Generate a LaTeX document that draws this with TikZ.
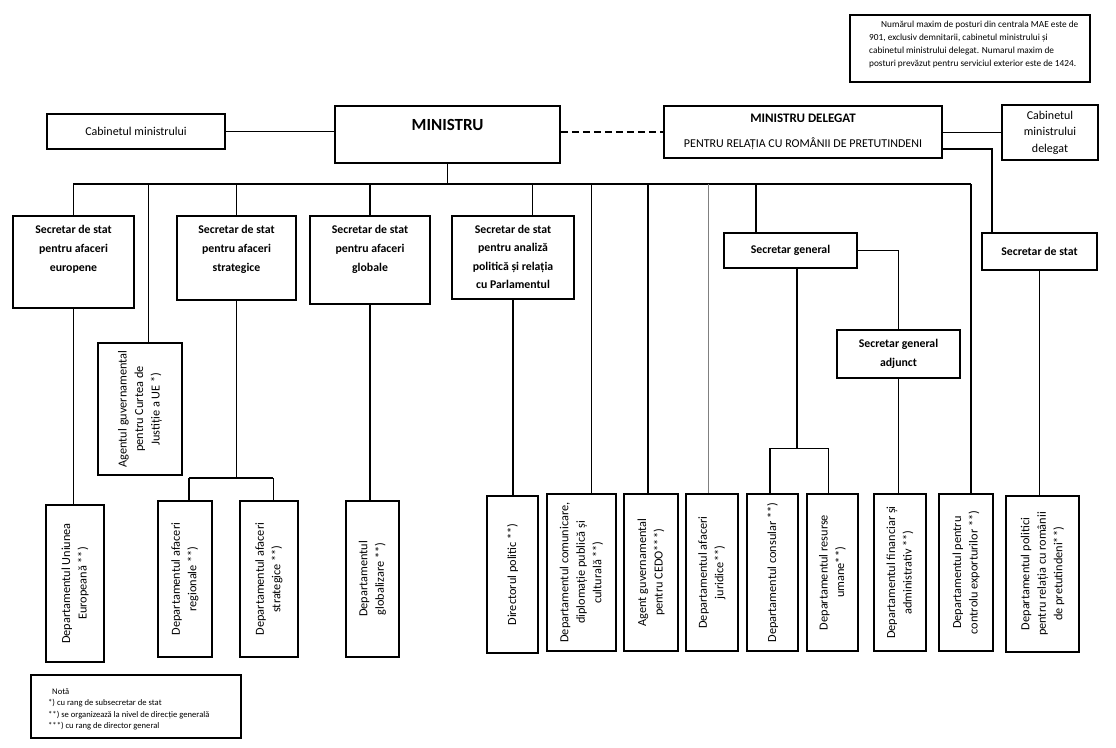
\documentclass[tikz,border=0pt]{standalone}
\usepackage{fontspec}
\setmainfont{Carlito}
\begin{document}
\begin{tikzpicture}[x=1pt,y=-1pt,
  bx/.style={draw, line width=1.5pt, inner sep=0pt, align=center},
  hdtxt/.style={anchor=north, inner sep=0pt, align=center, font=\fontsize{11.8}{19}\selectfont\bfseries},
  hdbox/.style={bx, font=\fontsize{11.8}{18.5}\selectfont\bfseries},
  rt/.style={bx, rotate=90, font=\fontsize{12.3}{16.5}\selectfont},
  thk/.style={line width=1.5pt},
  thn/.style={line width=0.9pt},
]
\useasboundingbox[fill=white] (0,0) rectangle (1116,747);

% note top right
\node[bx, line width=1.3pt, minimum width=240pt, minimum height=67pt] (note) at (970,48.5) {};
\node[anchor=north west, inner sep=0pt, align=left, font=\fontsize{9.3}{12.8}\selectfont] (notet) at (869,21)
 {\hspace*{12pt}Numărul maxim de posturi din centrala MAE este de\\901, exclusiv demnitarii, cabinetul ministrului și\\cabinetul ministrului delegat. Numarul maxim de\\posturi prevăzut pentru serviciul exterior este de 1424.};

% top row
\node[bx, minimum width=178pt, minimum height=35pt, font=\fontsize{12}{15}\selectfont] (cab) at (136,131.5) {Cabinetul ministrului};
\node[bx, minimum width=225pt, minimum height=57pt] (min) at (447.5,134.5) {};
\node[inner sep=0pt, font=\fontsize{17}{20}\selectfont\bfseries] (mint) at (447.5,125) {MINISTRU};
\node[bx, minimum width=278pt, minimum height=52pt, font=\fontsize{12}{18}\selectfont] (md) at (803,132)
 {{\fontsize{13}{18}\selectfont\bfseries MINISTRU DELEGAT}\\[7pt]PENTRU RELAȚIA CU ROMÂNII DE PRETUTINDENI};
\node[bx, minimum width=96pt, minimum height=55pt, font=\fontsize{12}{16.5}\selectfont] (cabd) at (1050,132.5) {Cabinetul\\ministrului\\delegat};

% second row
\node[bx, minimum width=121pt, minimum height=92pt] (sseu) at (73.5,262) {};
\node[hdtxt] (sseut) at (73.5,225) {Secretar de stat\\pentru afaceri\\europene};
\node[bx, minimum width=119pt, minimum height=84pt] (ssstr) at (236.5,258) {};
\node[hdtxt] (ssstrt) at (236.5,225) {Secretar de stat\\pentru afaceri\\strategice};
\node[bx, minimum width=120pt, minimum height=88pt] (ssglob) at (370,260) {};
\node[hdtxt] (ssglobt) at (370,225) {Secretar de stat\\pentru afaceri\\globale};
\node[bx, minimum width=122pt, minimum height=83pt] (ssan) at (513,257.5) {};
\node[hdtxt, font=\fontsize{11.8}{18.5}\selectfont\bfseries] (ssant) at (513,225) {Secretar de stat\\pentru analiză\\politică și relația\\cu Parlamentul};
\node[hdbox, minimum width=133pt, minimum height=35pt] (sg) at (790.5,250.5) {Secretar general};
\node[hdbox, minimum width=123pt, minimum height=48pt] (sga) at (898.5,354) {Secretar general\\adjunct};
\node[hdbox, minimum width=115pt, minimum height=37pt] (ssr) at (1039.5,251.5) {Secretar de stat};

% rotated boxes
\node[rt, minimum width=132pt, minimum height=84pt] (agent) at (140,409) {Agentul guvernamental\\pentru Curtea de\\Justiție a UE *)};
\node[rt, minimum width=157pt, minimum height=58pt] (due) at (75,583.5) {Departamentul Uniunea\\Europeană **)};
\node[rt, minimum width=156pt, minimum height=54pt] (dreg) at (185,579) {Departamentul afaceri\\regionale **)};
\node[rt, minimum width=156pt, minimum height=58pt] (dstr) at (269,579) {Departamentul afaceri\\strategice **)};
\node[rt, minimum width=156pt, minimum height=53pt] (dglob) at (372.5,579) {Departamentul\\globalizare **)};
\node[rt, minimum width=157pt, minimum height=51pt] (dpol) at (512.5,574.5) {Directorul politic **)};
\node[rt, minimum width=157pt, minimum height=69pt] (dcom) at (581.5,572.5) {Departamentul comunicare,\\diplomație publică și\\culturală **)};
\node[rt, minimum width=157pt, minimum height=54pt] (dcedo) at (651,572.5) {Agent guvernamental\\pentru CEDO***)};
\node[rt, minimum width=157pt, minimum height=52pt] (djur) at (712,572.5) {Departamentul afaceri\\juridice**)};
\node[rt, minimum width=157pt, minimum height=51pt] (dcons) at (772.5,572.5) {Departamentul consular **)};
\node[rt, minimum width=157pt, minimum height=51pt] (dru) at (832.5,572.5) {Departamentul resurse\\umane**)};
\node[rt, minimum width=157pt, minimum height=52pt] (dfin) at (900,572.5) {Departamentul financiar și\\administrativ **)};
\node[rt, minimum width=157pt, minimum height=54pt] (dexp) at (966,572.5) {Departamentul pentru\\controlu exporturilor **)};
\node[rt, minimum width=156pt, minimum height=73pt] (dpr) at (1042.5,574) {Departamentul politici\\pentru relația cu românii\\de pretutindeni**)};

% legend
\node[bx, line width=1.3pt, minimum width=210pt, minimum height=63pt] (leg) at (136,706.5) {};
\node[anchor=north west, inner sep=0pt, align=left, font=\fontsize{8.6}{11.5}\selectfont] (legt) at (48,688)
 {\hspace*{4pt}Notă\\*) cu rang de subsecretar de stat\\**) se organizează la nivel de direcție generală\\***) cu rang de director general};

% connectors top
\draw[thk] (cab.east) -- (cab.east -| min.west);
\draw[line width=1.2pt, dash pattern=on 7pt off 4pt] (min.east |- md.west) -- (md.west);
\draw[thk] (md.east |- cabd.west) -- (cabd.west);
\coordinate (mdr) at (992,149);
\draw[thk] (mdr -| md.east) -- (mdr) -- (mdr |- ssr.north);

% bus
\coordinate (d1) at (73,184);
\coordinate (d2) at (148,184);
\coordinate (d3) at (236,184);
\coordinate (d4) at (370,184);
\coordinate (d5) at (532,184);
\coordinate (d6) at (591,184);
\coordinate (d7) at (648,184);
\coordinate (d8) at (708,184);
\coordinate (d9) at (756,184);
\coordinate (d10) at (971,184);
\draw[thk] (min.south) -- (min.south |- d1);
\draw[thk] (d1) -- (d10);
\draw[thn] (d1) -- (d1 |- sseu.north);
\draw[thn] (d2) -- (d2 |- agent.east);
\draw[thn] (d3) -- (d3 |- ssstr.north);
\draw[thk] (d4) -- (d4 |- ssglob.north);
\draw[thn] (d5) -- (d5 |- ssan.north);
\draw[thn] (d6) -- (d6 |- dcom.east);
\draw[thk] (d7) -- (d7 |- dcedo.east);
\draw[thn, gray] (d8) -- (d8 |- djur.east);
\draw[thk] (d9) -- (d9 |- sg.north);
\draw[thk] (d10) -- (d10 |- dexp.east);

% lower connectors
\draw[thk] (sseu.south) -- (sseu.south |- due.east);
\coordinate (brl) at (189,478);
\coordinate (brr) at (273,478);
\draw[thk] (ssstr.south) -- (ssstr.south |- brl);
\draw[thk] (brl) -- (brr);
\draw[thk] (brl) -- (brl |- dreg.east);
\draw[thn] (brr) -- (brr |- dstr.east);
\draw[thk] (ssglob.south) -- (ssglob.south |- dglob.east);
\draw[thk] (ssan.south) -- (ssan.south |- dpol.east);
\draw[thk] (sg.east) -- (sg.east -| sga.north) -- (sga.north);
\coordinate (sgc) at (797,448);
\coordinate (sgl) at (770,448);
\coordinate (sgr) at (828,448);
\draw[thk] (sgc |- sg.south) -- (sgc);
\draw[thn] (sgl) -- (sgr);
\draw[thk] (sgl) -- (sgl |- dcons.east);
\draw[thn] (sgr) -- (sgr |- dru.east);
\draw[thk] (sga.south) -- (sga.south |- dfin.east);
\draw[thk] (ssr.south) -- (ssr.south |- dpr.east);
\end{tikzpicture}
\end{document}
